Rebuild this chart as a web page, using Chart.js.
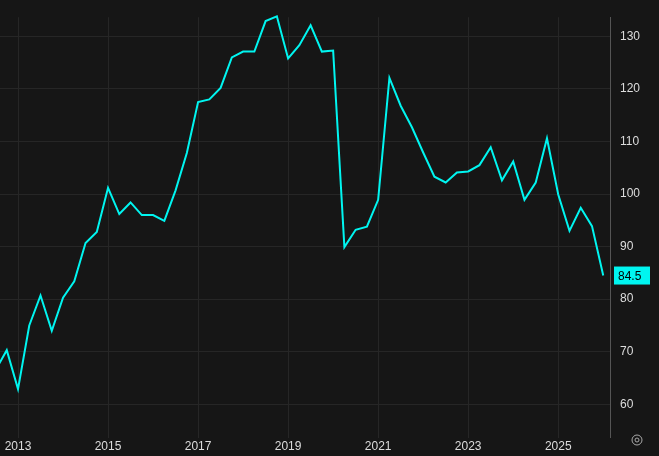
<!DOCTYPE html>
<html>
<head>
<meta charset="utf-8">
<script src="https://cdn.jsdelivr.net/npm/chart.js@4"></script>
<style>
  html, body { margin: 0; padding: 0; background: #161616; }
  #wrap { width: 659px; height: 456px; position: relative; }
</style>
</head>
<body>
<div id="wrap"><canvas id="chart"></canvas></div>
<script>
// quarterly points starting mid-2012
const startYear = 2012.5;
const values = [
    66.5, 70.3, 62.9, 75.0, 80.7, 74.0, 80.3, 83.4, 90.7, 92.8,
    101.2, 96.2, 98.4, 96.0, 96.0, 94.9, 100.7, 107.8, 117.5, 118.0,
    120.2, 126.0, 127.1, 127.1, 132.9, 133.8, 125.8, 128.3, 132.1, 127.1,
    127.3, 89.9, 93.2, 93.8, 98.9, 122.1, 116.8, 112.7, 107.9, 103.3,
    102.2, 104.1, 104.3, 105.5, 108.9, 102.6, 106.2, 98.9, 102.2, 110.6,
    99.9, 93.0, 97.4, 93.9, 84.5
];
const yearTicks = [2013, 2015, 2017, 2019, 2021, 2023, 2025];
const valueTicks = [60, 70, 80, 90, 100, 110, 120, 130];

const points = values.map((v, i) => ({ x: startYear + i * 0.25, y: v }));
const lastValue = values[values.length - 1];

// cyan box with last value on the right axis
const lastLabel = {
    id: 'lastLabel',
    afterDraw(chart) {
        const ctx = chart.ctx;
        const y = chart.scales.y.getPixelForValue(lastValue);
        const x = chart.chartArea.right + 4;
        ctx.save();
        ctx.fillStyle = '#00f5f0';
        ctx.fillRect(x, y - 9, 36, 18);
        ctx.fillStyle = '#000';
        ctx.font = '12px "Liberation Sans", Arial, sans-serif';
        ctx.textBaseline = 'middle';
        ctx.fillText(lastValue.toFixed(1), x + 4, y + 1);
        ctx.strokeStyle = '#aaa';
        ctx.lineWidth = 1;
        ctx.beginPath();
        ctx.arc(637, 440, 5, 0, Math.PI * 2);
        ctx.stroke();
        ctx.beginPath();
        ctx.arc(637, 440, 2, 0, Math.PI * 2);
        ctx.stroke();
        ctx.restore();
    }
};

new Chart(document.getElementById('chart'), {
    type: 'line',
    data: {
        datasets: [{
            data: points,
            borderColor: '#00f5f0',
            borderWidth: 2,
            pointRadius: 0,
            tension: 0,
            clip: { left: 0, right: 0, top: 20, bottom: 0 },
        }]
    },
    options: {
        responsive: true,
        maintainAspectRatio: false,
        animation: false,
        layout: { padding: { left: 0, right: 0, top: 0, bottom: 0 } },
        plugins: { legend: { display: false }, tooltip: { enabled: false } },
        scales: {
            x: {
                type: 'linear',
                min: 2012.6,
                max: 2026.15,
                afterBuildTicks: (axis) => { axis.ticks = yearTicks.map(v => ({ value: v })); },
                ticks: {
                    color: '#ddd',
                    font: { size: 12, family: '"Liberation Sans", Arial, sans-serif' },
                    callback: (v) => String(v),
                    maxRotation: 0,
                    padding: 2,
                },
                grid: { color: '#262626', drawTicks: false },
                border: { display: false },
            },
            y: {
                position: 'right',
                min: 53.67,
                max: 133.64,
                afterBuildTicks: (axis) => { axis.ticks = valueTicks.map(v => ({ value: v })); },
                afterFit: (axis) => { axis.width = 49; },
                ticks: {
                    color: '#ddd',
                    font: { size: 12, family: '"Liberation Sans", Arial, sans-serif' },
                    padding: 10,
                },
                grid: { color: '#262626', drawTicks: false },
                border: { display: true, color: '#555' },
            }
        }
    },
    plugins: [lastLabel]
});
</script>
</body>
</html>
